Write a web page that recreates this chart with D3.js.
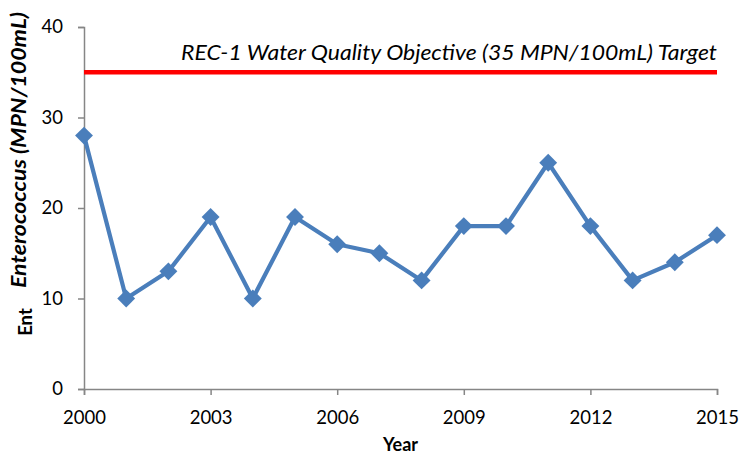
<!DOCTYPE html>
<html><head><meta charset="utf-8">
<script src="https://cdn.jsdelivr.net/npm/d3@7"></script>
<style>body{margin:0;background:#fff}</style>
</head><body>
<svg id="c" width="740" height="457"></svg>
<script>
const years = [2000,2001,2002,2003,2004,2005,2006,2007,2008,2009,2010,2011,2012,2013,2014,2015];
const values = [28,10,13,19,10,19,16,15,12,18,18,25,18,12,14,17];
const xTicks = [2000,2003,2006,2009,2012,2015];
const yTicks = [0,10,20,30,40];
const target = 35;
const targetLabel = "REC-1 Water Quality Objective (35 MPN/100mL) Target";

const font = "Lato, 'Open Sans', sans-serif";
const svg = d3.select("#c");
const m = {l:84, r:23, t:27, b:68};
const W = 740, H = 457;
const x = d3.scaleLinear().domain([2000,2015]).range([m.l, W-m.r]);
const y = d3.scaleLinear().domain([0,40]).range([H-m.b, m.t]);

const ax = svg.append("g").attr("transform",`translate(0,${H-m.b})`)
  .call(d3.axisBottom(x).tickValues(xTicks).tickFormat(d3.format("d")).tickSizeOuter(0).tickSize(6).tickPadding(16));
const ay = svg.append("g").attr("transform",`translate(${m.l},0)`)
  .call(d3.axisLeft(y).tickValues(yTicks).tickSizeOuter(0).tickSize(6).tickPadding(15));
[ax,ay].forEach(a=>{
  a.selectAll("path,line").attr("stroke","#868686").attr("stroke-width",1.5);
  a.selectAll("text").attr("font-family",font).attr("font-size",18.5).attr("fill","#000");
});

svg.append("line").attr("x1",x(2000)).attr("x2",x(2015)).attr("y1",y(target)).attr("y2",y(target))
  .attr("stroke","#ff0000").attr("stroke-width",4.5);
svg.append("text").attr("x",x(2015)).attr("y",y(target)-12).attr("text-anchor","end")
  .attr("font-family",font).attr("font-style","italic").attr("font-size",21)
  .attr("textLength",536).attr("lengthAdjust","spacingAndGlyphs").text(targetLabel);

const line = d3.line().x((d,i)=>x(years[i])).y(d=>y(d));
svg.append("path").datum(values).attr("d",line).attr("fill","none")
  .attr("stroke","#4a7ebb").attr("stroke-width",4.2).attr("stroke-linejoin","round");
svg.selectAll(".pt").data(values).enter().append("path")
  .attr("d",d3.symbol(d3.symbolSquare,160)())
  .attr("transform",(d,i)=>`translate(${x(years[i])},${y(d)}) rotate(45)`)
  .attr("fill","#4a7ebb");

svg.append("text").attr("x",(x(2000)+x(2015))/2).attr("y",451).attr("text-anchor","middle")
  .attr("font-family",font).attr("font-weight","bold").attr("font-size",18).text("Year");

svg.append("text").attr("transform",`translate(26,150) rotate(-90)`)
  .attr("text-anchor","middle").attr("font-family",font).attr("font-weight","bold").attr("font-style","italic")
  .attr("font-size",21).attr("textLength",276).attr("lengthAdjust","spacingAndGlyphs")
  .text("Enterococcus (MPN/100mL)");
svg.append("text").attr("transform",`translate(32,322) rotate(-90)`)
  .attr("text-anchor","middle").attr("font-family",font).attr("font-weight","bold")
  .attr("font-size",18.5).text("Ent");
</script>
</body></html>
